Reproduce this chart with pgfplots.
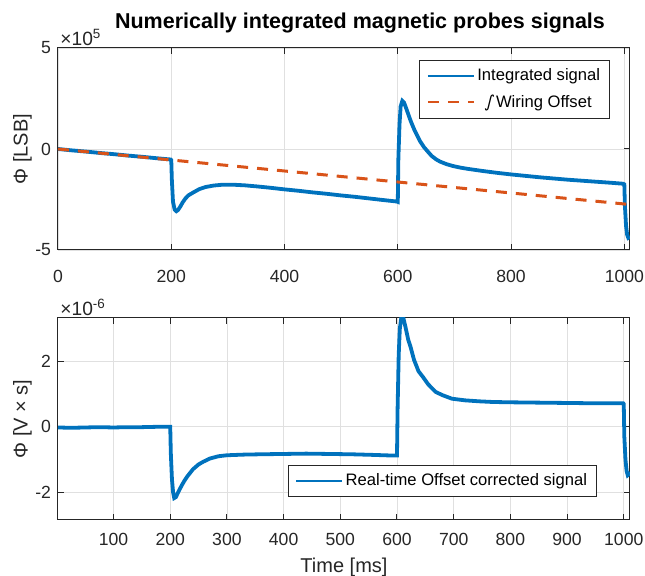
\documentclass[border=0pt]{standalone}
\usepackage{pgfplots}
\pgfplotsset{compat=1.18}
\usepackage{fontspec}
\setmainfont{Liberation Sans}
\newfontfamily\intfont[FakeSlant=0.2]{DejaVu Sans}
\definecolor{mblue}{rgb}{0,0.447,0.741}
\definecolor{morange}{rgb}{0.85,0.325,0.098}
\definecolor{axgray}{gray}{0.15}
\definecolor{gridgray}{gray}{0.88}
\newcommand{\tfont}{\fontsize{8.8}{10}\selectfont}
\newcommand{\gfont}{\fontsize{8.3}{10}\selectfont}
\newcommand{\lfont}{\fontsize{10}{12}\selectfont}
\pgfplotsset{
  mstyle/.style={
    scale only axis, width=286pt, height=101pt,
    axis line style={axgray, line width=0.5pt},
    tick style={axgray, line width=0.5pt},
    major tick length=3pt,
    tick align=inside,
    xtick pos=both, ytick pos=both,
    grid=major, grid style={gridgray, line width=0.4pt},
    tick label style={font=\tfont, text=axgray},
    xticklabel style={yshift=-3pt},
    label style={font=\lfont, text=axgray},
    ylabel style={at={(rel axis cs:-0.062,0.5)}, anchor=center, rotate=0},
    /pgf/number format/assume math mode=true,
    legend cell align=left,
    legend image code/.code={\draw[#1, line width=1pt] (0pt,0pt) -- (23pt,0pt);},
    legend style={font=\gfont, draw=axgray, line width=0.5pt, fill=white, inner xsep=3.5pt, inner ysep=2pt, row sep=1.5pt, nodes={inner xsep=1.2pt}},
  }
}
\begin{document}
\begin{tikzpicture}
\useasboundingbox (-29pt,-28pt) rectangle (293.5pt,260pt);
% ---------------- top axis ----------------
\begin{axis}[mstyle, name=top, at={(0pt,135pt)}, anchor=south west,
  xmin=0, xmax=1010, ymin=-5, ymax=5,
  xtick={0,200,400,600,800,1000},
  xticklabels={0,200,400,600,800,1000},
  xticklabel style={yshift=-3.5pt},
  ytick={-5,0,5}, yticklabels={-5,0,5},
  ylabel={Φ [LSB]},
  title={Numerically integrated magnetic probes signals},
  title style={font=\bfseries\fontsize{10.75}{12}\selectfont, xshift=8pt, yshift=-2pt},
  legend style={at={(1,1)}, anchor=north east, xshift=-10pt, yshift=-6pt},
]
\addplot[mblue, line width=1.9pt] coordinates {
(0,0) (25,-0.07) (50,-0.13) (75,-0.2) (100,-0.26) (125,-0.33) (150,-0.39) (175,-0.46) (199,-0.52) (200,-0.55)
(201,-1.5) (203,-2.6) (206,-3.0) (209,-3.08) (212,-3.02) (216,-2.85) (220,-2.65) (225,-2.45) (230,-2.3) (239,-2.15) (250,-1.98) (261,-1.88) (275,-1.81) (290,-1.77) (310,-1.77) (330,-1.8)
(350,-1.85) (375,-1.92) (400,-2.0) (425,-2.07) (450,-2.15) (475,-2.22) (500,-2.3) (525,-2.37) (550,-2.45) (575,-2.53) (598,-2.6) (600,-2.62)
(601,-0.5) (603,1.2) (605,2.1) (608,2.38) (611,2.3) (615,2.0) (620,1.6) (624,1.3) (630,0.9) (639,0.4) (646,0.1) (653,-0.13) (660,-0.35) (668,-0.52) (675,-0.63) (686,-0.75) (697,-0.84)
(710,-0.92) (725,-0.99) (750,-1.09) (775,-1.18) (800,-1.26) (825,-1.33) (850,-1.4) (875,-1.46) (900,-1.52) (925,-1.57) (950,-1.62) (975,-1.67) (998,-1.72) (1000,-1.75)
(1001,-2.8) (1003,-3.8) (1005,-4.25) (1007,-4.4) (1010,-4.35)
};
\addlegendentry{Integrated signal}
\addplot[morange, line width=1.5pt, dash pattern=on 5.5pt off 4.5pt] coordinates {
(0,0) (1010,-2.75)
};
\addlegendentry{\hspace{3.5pt}{\intfont ∫}\hspace{1.5pt}Wiring Offset}
\end{axis}
\node[anchor=south west, font=\fontsize{9.6}{11}\selectfont, text=axgray, inner sep=1pt] at (top.north west) {×10\textsuperscript{5}};
% ---------------- bottom axis ----------------
\begin{axis}[mstyle, name=bot, at={(0pt,0pt)}, anchor=south west,
  xmin=2, xmax=1011, ymin=-2.85, ymax=3.33,
  xtick={100,200,300,400,500,600,700,800,900,1000},
  xticklabels={100,200,300,400,500,600,700,800,900,1000},
  ytick={-2,0,2}, yticklabels={-2,0,2},
  xlabel={Time [ms]},
  xlabel style={at={(rel axis cs:0.5,-0.235)}, anchor=center},
  ylabel={Φ [V × s]},
  legend style={at={(1,0)}, anchor=south east, xshift=-16.5pt, yshift=11.5pt},
]
\addplot[mblue, line width=1.9pt] coordinates {
(2,-0.02) (25,-0.03) (50,-0.02) (75,-0.01) (100,-0.02) (125,-0.01) (150,-0.01) (175,0.0) (199,0.0) (200,0.0)
(201,-0.8) (203,-1.6) (205,-2.0) (207,-2.18) (210,-2.15) (214,-2.0) (220,-1.8) (225,-1.65) (230,-1.52) (240,-1.3) (250,-1.15) (258,-1.07) (270,-0.97) (285,-0.9) (300,-0.87)
(330,-0.85) (360,-0.84) (400,-0.83) (440,-0.82) (480,-0.83) (520,-0.84) (560,-0.86) (594,-0.88) (600,-0.88)
(601,0.5) (603,2.2) (605,3.0) (608,3.4) (611,3.35) (615,3.05) (620,2.65) (624,2.44) (630,2.05) (638,1.7) (646,1.52) (655,1.3) (668,1.07) (680,0.97) (697,0.86)
(720,0.81) (745,0.78) (769,0.76) (800,0.75) (850,0.74) (900,0.73) (950,0.72) (987,0.72) (999,0.72)
(1000,0.7) (1001,-0.3) (1003,-1.0) (1005,-1.35) (1007,-1.48) (1009,-1.45) (1011,-1.38)
};
\addlegendentry{Real-time Offset corrected signal}
\end{axis}
\node[anchor=south west, font=\fontsize{9.6}{11}\selectfont, text=axgray, inner sep=1pt] at (bot.north west) {×10\textsuperscript{-6}};
\end{tikzpicture}
\end{document}
